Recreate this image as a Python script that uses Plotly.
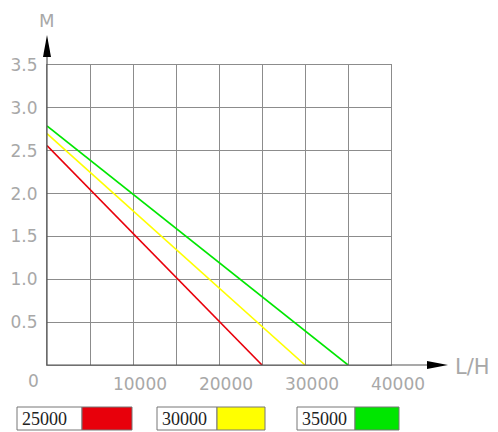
import plotly.graph_objects as go

# flow (L/H) vs head (M) for the three pump models
flow_25000 = [0, 25000]
head_25000 = [2.56, 0]
flow_30000 = [0, 30000]
head_30000 = [2.70, 0]
flow_35000 = [0, 35000]
head_35000 = [2.79, 0]

models = ['25000', '30000', '35000']
colors = ['#e8000b', '#ffff00', '#00e600']

x_ticks = [0, 5000, 10000, 15000, 20000, 25000, 30000, 35000, 40000]
x_labels = ['', '', '10000', '', '20000', '', '30000', '', '40000']
y_ticks = [0.5, 1.0, 1.5, 2.0, 2.5, 3.0, 3.5]

# page body adds an 8px offset, so the figure is 8px smaller than the window
W, H = 490, 424
L, R, T, B = 39, 107, 57, 67


def px_x(p):
    # reference pixel -> paper coords
    return (p - 8 - L) / (W - L - R)


def px_y(p):
    return (H - B - (p - 8)) / (H - T - B)


fig = go.Figure()
for xs, ys, c, name in zip([flow_25000, flow_30000, flow_35000],
                           [head_25000, head_30000, head_35000], colors, models):
    fig.add_trace(go.Scatter(x=xs, y=ys, mode='lines', name=name,
                             line=dict(color=c, width=1.6), showlegend=False))

grey = '#8c8c8c'
lbl = '#a8a8a8'
shapes = []
annotations = []

# axes extending past the grid with black arrowheads
shapes.append(dict(type='line', xref='paper', yref='paper', x0=0, y0=0,
                   x1=px_x(430), y1=0, line=dict(color='#555', width=1.2)))
shapes.append(dict(type='line', xref='paper', yref='paper', x0=0, y0=0,
                   x1=0, y1=px_y(50), line=dict(color='#555', width=1.2)))
shapes.append(dict(type='path', xref='paper', yref='paper', fillcolor='black', line=dict(width=0),
                   path='M %f %f L %f %f L %f %f Z' % (px_x(427), px_y(361), px_x(448), px_y(365),
                                                       px_x(427), px_y(369))))
shapes.append(dict(type='path', xref='paper', yref='paper', fillcolor='black', line=dict(width=0),
                   path='M %f %f L %f %f L %f %f Z' % (px_x(43), px_y(57), px_x(47), px_y(35),
                                                       px_x(51), px_y(57))))
annotations.append(dict(text='L/H', xref='paper', yref='paper', x=px_x(453), y=px_y(367),
                        xanchor='left', yanchor='middle', showarrow=False,
                        font=dict(family='DejaVu Sans', size=21, color=lbl)))
annotations.append(dict(text='M', xref='paper', yref='paper', x=px_x(47), y=px_y(21),
                        xanchor='center', yanchor='middle', showarrow=False,
                        font=dict(family='DejaVu Sans', size=18, color=lbl)))
annotations.append(dict(text='0', xref='paper', yref='paper', x=px_x(33), y=px_y(381),
                        xanchor='center', yanchor='middle', showarrow=False,
                        font=dict(family='DejaVu Sans', size=17, color=lbl)))

# legend boxes under the chart
boxes = [(17, 82, 132), (157, 217, 265), (297, 355, 399)]
for (a, b, c), name, col in zip(boxes, models, colors):
    shapes.append(dict(type='rect', xref='paper', yref='paper', x0=px_x(a), x1=px_x(b),
                       y0=px_y(430), y1=px_y(407), line=dict(color='#777', width=1),
                       fillcolor='white'))
    shapes.append(dict(type='rect', xref='paper', yref='paper', x0=px_x(b), x1=px_x(c),
                       y0=px_y(430), y1=px_y(407), line=dict(color='#777', width=1),
                       fillcolor=col))
    annotations.append(dict(text=name, xref='paper', yref='paper', x=px_x(a + 3), y=px_y(419),
                            xanchor='left', yanchor='middle', showarrow=False,
                            font=dict(family='Liberation Serif', size=18, color='#222')))

fig.update_layout(
    width=W, height=H,
    margin=dict(l=L, r=R, t=T, b=B),
    plot_bgcolor='white', paper_bgcolor='white',
    shapes=shapes, annotations=annotations,
    showlegend=False,
)
fig.update_xaxes(range=[0, 40000], tickvals=x_ticks, ticktext=x_labels,
                 showgrid=True, gridcolor=grey, gridwidth=1, zeroline=False,
                 showline=True, mirror=True, linecolor=grey, linewidth=1,
                 ticks='', ticklabelstandoff=4, ticklabelshift=7, automargin=False,
                 tickfont=dict(family='DejaVu Sans', size=17, color=lbl))
fig.update_yaxes(range=[0, 3.5], tickvals=y_ticks, tickformat='.1f',
                 showgrid=True, gridcolor=grey, gridwidth=1, zeroline=False,
                 showline=True, mirror=True, linecolor=grey, linewidth=1,
                 ticks='', ticklabelstandoff=5, automargin=False,
                 tickfont=dict(family='DejaVu Sans', size=17, color=lbl))

fig.write_html('out.html')
